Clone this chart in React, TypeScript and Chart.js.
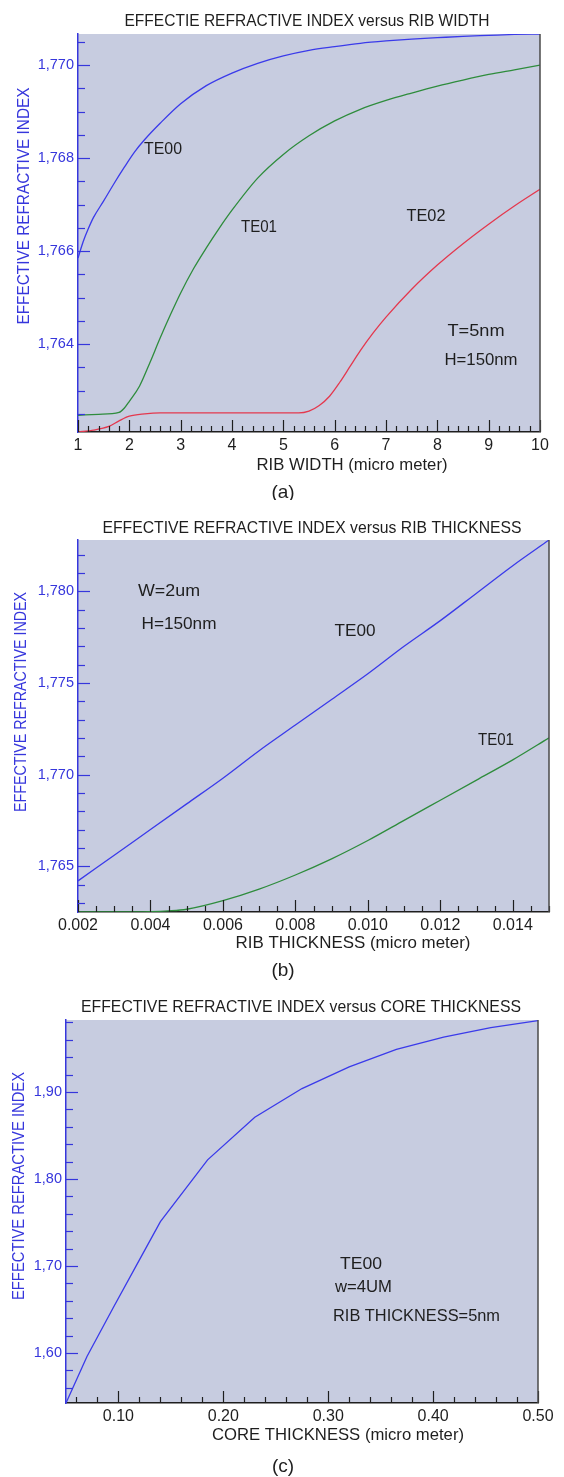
import React, { useEffect, useRef } from 'react';
import { Chart, registerables } from 'chart.js';

Chart.register(...registerables);

const FONT = '"Liberation Sans", Arial, Helvetica, sans-serif';
const AXIS_BLUE = '#3636dc';
const LINE_BLUE = '#3a3aea';
const GREEN = '#2e8c3c';
const RED = '#e4384e';
const PLOT_BG = '#c7cce0';
const INK = '#1e1e1e';
const PAGE_W = 564;

// ---------- (a) effective index vs rib width ----------
const widthTE00X = [1.0, 1.1, 1.2, 1.3, 1.5, 1.7, 1.9, 2.1, 2.3, 2.6, 3.0, 3.5, 4.0, 4.5, 5.0, 5.5, 6.0, 6.5, 7.0, 7.5, 8.0, 8.5, 9.0, 9.5, 10.0];
const widthTE00Y = [1.76585, 1.7662, 1.76648, 1.76672, 1.76708, 1.76745, 1.7678, 1.76813, 1.7684, 1.76875, 1.76917, 1.76956, 1.76983, 1.77004, 1.7702, 1.77032, 1.7704, 1.77047, 1.77052, 1.77056, 1.77059, 1.77062, 1.77064, 1.77066, 1.77067];
const widthTE01X = [1.0, 1.4, 1.8, 1.9, 2.0, 2.2, 2.4, 2.6, 2.8, 3.0, 3.25, 3.5, 3.75, 4.0, 4.5, 5.0, 5.5, 6.0, 6.5, 7.0, 7.5, 8.0, 8.5, 9.0, 9.5, 10.0];
const widthTE01Y = [1.76247, 1.76249, 1.76253, 1.76262, 1.76277, 1.7631, 1.7636, 1.76413, 1.76463, 1.7651, 1.76562, 1.76607, 1.76649, 1.76688, 1.76757, 1.76808, 1.76848, 1.7688, 1.76905, 1.76924, 1.7694, 1.76955, 1.76968, 1.7698, 1.7699, 1.77];
const widthTE02X = [1.0, 1.3, 1.6, 1.8, 2.0, 2.3, 2.6, 3.5, 4.5, 5.3, 5.5, 5.7, 5.9, 6.1, 6.3, 6.5, 6.75, 7.0, 7.5, 8.0, 8.5, 9.0, 9.5, 10.0];
const widthTE02Y = [1.76211, 1.76215, 1.76223, 1.76235, 1.76245, 1.7625, 1.76252, 1.76252, 1.76252, 1.76252, 1.76256, 1.76268, 1.76288, 1.76318, 1.76352, 1.76386, 1.76424, 1.76458, 1.76518, 1.7657, 1.76616, 1.76658, 1.76697, 1.76733];
const widthXMajor = [1, 2, 3, 4, 5, 6, 7, 8, 9, 10];
const widthYMajor = [1.764, 1.766, 1.768, 1.77];

// ---------- (b) effective index vs rib thickness ----------
const thickX = [0.002, 0.003, 0.004, 0.005, 0.006, 0.007, 0.008, 0.009, 0.01, 0.011, 0.012, 0.013, 0.014, 0.015];
const thickTE00Y = [1.7642, 1.7656, 1.767, 1.7684, 1.7698, 1.7713, 1.7727, 1.7741, 1.7755, 1.777, 1.7784, 1.7799, 1.7814, 1.7828];
const thickTE01X = [0.002, 0.003, 0.004, 0.0045, 0.005, 0.006, 0.007, 0.008, 0.009, 0.01, 0.011, 0.012, 0.013, 0.014, 0.015];
const thickTE01Y = [1.7625, 1.7625, 1.76252, 1.76256, 1.76265, 1.76312, 1.76375, 1.76452, 1.7654, 1.7664, 1.7675, 1.7686, 1.7697, 1.7708, 1.772];
const thickXMajor = [0.002, 0.004, 0.006, 0.008, 0.01, 0.012, 0.014];
const thickYMajor = [1.765, 1.77, 1.775, 1.78];

// ---------- (c) effective index vs core thickness ----------
const coreX = [0.05, 0.07, 0.095, 0.12, 0.14, 0.185, 0.23, 0.275, 0.32, 0.365, 0.41, 0.455, 0.5];
const coreTE00Y = [1.5425, 1.596, 1.652, 1.707, 1.751, 1.822, 1.871, 1.904, 1.929, 1.949, 1.963, 1.974, 1.982];
const coreXMajor = [0.1, 0.2, 0.3, 0.4, 0.5];
const coreYMajor = [1.6, 1.7, 1.8, 1.9];

type Series = { name: string; xs: number[]; ys: number[]; color: string; smooth: boolean };
type Txt = { text: string; x: number; y: number; w?: number; size: number; color: string; rotate?: boolean; align?: CanvasTextAlign };
type PanelCfg = {
  top: number;
  height: number;
  area: { l: number; r: number; t: number; b: number };
  x: { min: number; max: number; step: number; major: number[]; fmt: (v: number) => string };
  y: { min: number; max: number; step: number; major: number[]; fmt: (v: number) => string };
  series: Series[];
  texts: Txt[];
};

const comma = (v: number, d: number) => v.toFixed(d).replace('.', ',');

const panels: PanelCfg[] = [
  {
    top: 0,
    height: 500,
    area: { l: 78, r: 540, t: 34, b: 432 },
    x: { min: 1, max: 10, step: 0.2, major: widthXMajor, fmt: (v) => String(Math.round(v)) },
    y: { min: 1.76211, max: 1.77067, step: 0.0005, major: widthYMajor, fmt: (v) => comma(v, 3) },
    series: [
      { name: 'TE00', xs: widthTE00X, ys: widthTE00Y, color: LINE_BLUE, smooth: true },
      { name: 'TE01', xs: widthTE01X, ys: widthTE01Y, color: GREEN, smooth: true },
      { name: 'TE02', xs: widthTE02X, ys: widthTE02Y, color: RED, smooth: true },
    ],
    texts: [
      { text: 'EFFECTIE REFRACTIVE INDEX versus RIB WIDTH', x: 307, y: 21, w: 365, size: 16.5, color: INK },
      { text: 'EFFECTIVE REFRACTIVE INDEX', x: 24.5, y: 206, w: 237, size: 16.5, color: AXIS_BLUE, rotate: true },
      { text: 'RIB WIDTH (micro meter)', x: 352, y: 465, w: 191, size: 16.5, color: INK },
      { text: '(a)', x: 283, y: 493, size: 19, color: INK },
      { text: 'TE00', x: 163, y: 150, w: 38, size: 16, color: INK },
      { text: 'TE01', x: 259, y: 228, w: 36, size: 16, color: INK },
      { text: 'TE02', x: 426, y: 217, w: 39, size: 16, color: INK },
      { text: 'T=5nm', x: 476, y: 332, w: 57, size: 16, color: INK },
      { text: 'H=150nm', x: 481, y: 361, w: 73, size: 16, color: INK },
    ],
  },
  {
    top: 500,
    height: 485,
    area: { l: 78, r: 549, t: 40, b: 412 },
    x: { min: 0.002, max: 0.015, step: 0.0005, major: thickXMajor, fmt: (v) => v.toFixed(3) },
    y: { min: 1.7625, max: 1.7828, step: 0.001, major: thickYMajor, fmt: (v) => comma(v, 3) },
    series: [
      { name: 'TE00', xs: thickX, ys: thickTE00Y, color: LINE_BLUE, smooth: true },
      { name: 'TE01', xs: thickTE01X, ys: thickTE01Y, color: GREEN, smooth: true },
    ],
    texts: [
      { text: 'EFFECTIVE REFRACTIVE INDEX versus RIB THICKNESS', x: 312, y: 28, w: 419, size: 16.5, color: INK },
      { text: 'EFFECTIVE REFRACTIVE INDEX', x: 21.6, y: 202, w: 220, size: 16.5, color: AXIS_BLUE, rotate: true },
      { text: 'RIB THICKNESS (micro meter)', x: 353, y: 443, w: 235, size: 16.5, color: INK },
      { text: '(b)', x: 283, y: 471, size: 19, color: INK },
      { text: 'W=2um', x: 169, y: 92, w: 62, size: 16, color: INK },
      { text: 'H=150nm', x: 179, y: 125, w: 75, size: 16, color: INK },
      { text: 'TE00', x: 355, y: 132, w: 41, size: 16, color: INK },
      { text: 'TE01', x: 496, y: 241, w: 36, size: 16, color: INK },
    ],
  },
  {
    top: 985,
    height: 492,
    area: { l: 66, r: 538, t: 35, b: 418 },
    x: { min: 0.05, max: 0.5, step: 0.02, major: coreXMajor, fmt: (v) => v.toFixed(2) },
    y: { min: 1.5425, max: 1.9828, step: 0.02, major: coreYMajor, fmt: (v) => comma(v, 2) },
    series: [{ name: 'TE00', xs: coreX, ys: coreTE00Y, color: LINE_BLUE, smooth: false }],
    texts: [
      { text: 'EFFECTIVE REFRACTIVE INDEX versus CORE THICKNESS', x: 301, y: 22, w: 440, size: 16.5, color: INK },
      { text: 'EFFECTIVE REFRACTIVE INDEX', x: 19.8, y: 201, w: 228, size: 16.5, color: AXIS_BLUE, rotate: true },
      { text: 'CORE THICKNESS (micro meter)', x: 338, y: 450, w: 252, size: 16.5, color: INK },
      { text: '(c)', x: 283, y: 482, size: 19, color: INK },
      { text: 'TE00', x: 340, y: 280, w: 42, size: 16, color: INK, align: 'left' },
      { text: 'w=4UM', x: 335, y: 303, w: 57, size: 16, color: INK, align: 'left' },
      { text: 'RIB THICKNESS=5nm', x: 333, y: 332, w: 167, size: 16, color: INK, align: 'left' },
    ],
  },
];

const isMajor = (v: number, majors: number[], step: number) => majors.some((m) => Math.abs(m - v) < step / 100);

function drawTxt(ctx: CanvasRenderingContext2D, t: Txt) {
  ctx.save();
  ctx.font = `${t.size}px ${FONT}`;
  ctx.fillStyle = t.color;
  ctx.textBaseline = 'middle';
  ctx.textAlign = t.align || 'center';
  const m = ctx.measureText(t.text).width || 1;
  const sx = t.w ? Math.max(0.7, Math.min(1.4, t.w / m)) : 1;
  ctx.translate(t.x, t.y);
  if (t.rotate) ctx.rotate(-Math.PI / 2);
  ctx.scale(sx, 1);
  ctx.fillText(t.text, 0, 0);
  ctx.restore();
}

function zeroPad(s: any) {
  s.paddingLeft = 0;
  s.paddingRight = 0;
  s.paddingTop = 0;
  s.paddingBottom = 0;
}

function Panel({ cfg }: { cfg: PanelCfg }) {
  const ref = useRef<HTMLCanvasElement>(null);
  useEffect(() => {
    const canvas = ref.current;
    if (!canvas) return;
    const decor = {
      id: 'decor',
      beforeDraw(chart: any) {
        const { ctx, chartArea: a } = chart;
        ctx.save();
        ctx.fillStyle = PLOT_BG;
        ctx.fillRect(a.left, a.top, a.right - a.left, a.bottom - a.top);
        ctx.restore();
      },
      afterDraw(chart: any) {
        const { ctx, chartArea: a } = chart;
        const xs = chart.scales.x;
        const ys = chart.scales.y;
        ctx.save();
        ctx.lineWidth = 1.2;
        ctx.strokeStyle = INK;
        xs.ticks.forEach((t: any) => {
          const px = Math.round(xs.getPixelForValue(t.value)) + 0.5;
          const len = isMajor(t.value, cfg.x.major, cfg.x.step) ? 12 : 6;
          ctx.beginPath();
          ctx.moveTo(px, a.bottom);
          ctx.lineTo(px, a.bottom - len);
          ctx.stroke();
        });
        ctx.strokeStyle = AXIS_BLUE;
        ys.ticks.forEach((t: any) => {
          const py = Math.round(ys.getPixelForValue(t.value)) + 0.5;
          const len = isMajor(t.value, cfg.y.major, cfg.y.step) ? 12 : 7;
          ctx.beginPath();
          ctx.moveTo(a.left, py);
          ctx.lineTo(a.left + len, py);
          ctx.stroke();
        });
        ctx.strokeStyle = '#4a4a4a';
        ctx.lineWidth = 1.5;
        ctx.beginPath();
        ctx.moveTo(a.right, a.top);
        ctx.lineTo(a.right, a.bottom);
        ctx.stroke();
        ctx.restore();
        cfg.texts.forEach((t) => drawTxt(ctx, t));
      },
    };
    const chart = new Chart(canvas, {
      type: 'line',
      data: {
        datasets: cfg.series.map((s) => ({
          label: s.name,
          data: s.xs.map((x, i) => ({ x, y: s.ys[i] })),
          borderColor: s.color,
          borderWidth: 1.3,
          pointRadius: 0,
          fill: false,
          tension: 0,
          cubicInterpolationMode: s.smooth ? 'monotone' : 'default',
        })),
      } as any,
      options: {
        animation: false,
        responsive: false,
        maintainAspectRatio: false,
        events: [],
        layout: { padding: { left: 0, top: cfg.area.t, right: PAGE_W - cfg.area.r, bottom: 0 } },
        plugins: { legend: { display: false }, title: { display: false }, tooltip: { enabled: false } },
        scales: {
          x: {
            type: 'linear',
            position: 'bottom',
            min: cfg.x.min,
            max: cfg.x.max,
            grid: { display: false, drawTicks: false },
            border: { display: true, color: INK, width: 1.5 },
            ticks: {
              stepSize: cfg.x.step,
              autoSkip: false,
              includeBounds: false,
              maxRotation: 0,
              minRotation: 0,
              padding: 4,
              color: INK,
              font: { family: FONT, size: 16 },
              callback: (v: any) => (isMajor(Number(v), cfg.x.major, cfg.x.step) ? cfg.x.fmt(Number(v)) : ''),
            },
            afterFit: (s: any) => {
              s.height = cfg.height - cfg.area.b;
              zeroPad(s);
            },
          },
          y: {
            type: 'linear',
            position: 'left',
            min: cfg.y.min,
            max: cfg.y.max,
            grid: { display: false, drawTicks: false },
            border: { display: true, color: AXIS_BLUE, width: 1.5 },
            ticks: {
              stepSize: cfg.y.step,
              autoSkip: false,
              includeBounds: false,
              padding: 4,
              color: AXIS_BLUE,
              font: { family: FONT, size: 14.5 },
              callback: (v: any) => (isMajor(Number(v), cfg.y.major, cfg.y.step) ? cfg.y.fmt(Number(v)) : ''),
            },
            afterFit: (s: any) => {
              s.width = cfg.area.l;
              zeroPad(s);
            },
          },
        },
      } as any,
      plugins: [decor],
    });
    return () => chart.destroy();
  }, [cfg]);
  return (
    <canvas
      ref={ref}
      width={PAGE_W}
      height={cfg.height}
      style={{ position: 'absolute', left: 0, top: cfg.top, width: PAGE_W, height: cfg.height, display: 'block' }}
    />
  );
}

export default function App() {
  return (
    <div style={{ position: 'absolute', left: 0, top: 0, width: PAGE_W, height: 1477, background: '#ffffff' }}>
      {panels.map((p, i) => (
        <Panel key={i} cfg={p} />
      ))}
    </div>
  );
}
